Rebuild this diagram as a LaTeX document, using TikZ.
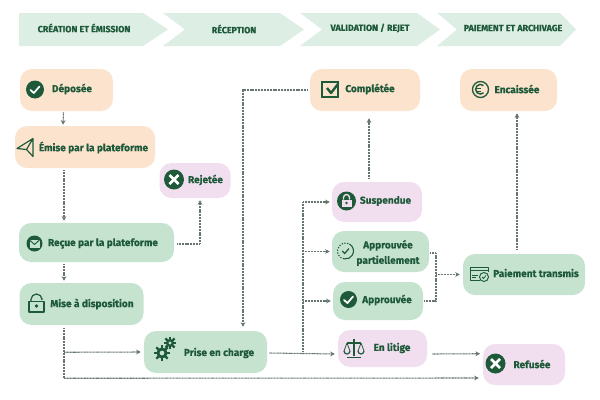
\documentclass[tikz,border=0pt]{standalone}
\usepackage{fontspec}
\setmainfont{Fira Sans}[BoldFeatures={FakeBold=0.5}]
\usetikzlibrary{arrows.meta,calc,shapes.geometric}
\definecolor{peach}{HTML}{FCE3CD}
\definecolor{mint}{HTML}{C6E3D0}
\definecolor{lilac}{HTML}{F1DFF0}
\definecolor{band}{HTML}{DDEEE5}
\definecolor{ink}{HTML}{1E5A3A}
\definecolor{wire}{HTML}{66756D}
\tikzset{
  x=0.75pt,y=-0.75pt,
  boxnode/.style n args={3}{draw=none,fill=#1,rounded corners=9pt,minimum width=#2*0.75pt,minimum height=#3*0.75pt,inner sep=0pt},
  lbl/.style={text=ink,font=\bfseries\fontsize{7.55pt}{11.5pt}\selectfont,inner sep=0pt,align=center},
  hdr/.style={text=ink,font=\bfseries\fontsize{6.7pt}{8pt}\selectfont,inner sep=0pt},
  conn/.style={draw=wire,line width=0.8pt,dash pattern=on 0.8pt off 0.35pt,-{Stealth[length=3.4pt,width=3.6pt]}},
  wireline/.style={draw=wire,line width=0.8pt,dash pattern=on 0.8pt off 0.35pt},
  icl/.style={draw=ink,line width=0.9pt,fill=none,line join=round},
  tick/.style={draw=white,line width=1.3pt,line cap=round,line join=round},
}
\begin{document}
\begin{tikzpicture}
\useasboundingbox (0,0) rectangle (600,400);
\fill[white] (0,0) rectangle (600,400);
% bands
\fill[band] (19,13)--(143,13)--(168,29.5)--(143,46)--(19,46)--cycle;
\fill[band] (163,13)--(280,13)--(304,29.5)--(280,46)--(163,46)--(185,29.5)--cycle;
\fill[band] (300,13)--(417,13)--(440,29.5)--(417,46)--(300,46)--(322,29.5)--cycle;
\fill[band] (437,13)--(560,13)--(576,29.5)--(560,46)--(437,46)--(457,29.5)--cycle;
\node[hdr] (h1) at (84,28) {CRÉATION ET ÉMISSION};
\node[hdr] (h2) at (234,29) {RÉCEPTION};
\node[hdr] (h3) at (370,28) {VALIDATION / REJET};
\node[hdr] (h4) at (513,28) {PAIEMENT ET ARCHIVAGE};
% boxes
\node[boxnode={peach}{93}{42}] (dep) at (66.5,90) {};
\node[boxnode={peach}{140}{42}] (emi) at (85,147) {};
\node[boxnode={lilac}{71}{35}] (rej) at (195,180.5) {};
\node[boxnode={mint}{155}{39}] (rec) at (96.5,242.5) {};
\node[boxnode={mint}{124}{42}] (mis) at (81.5,304) {};
\node[boxnode={mint}{123}{42}] (pri) at (205.5,352) {};
\node[boxnode={peach}{110}{42}] (com) at (365,90) {};
\node[boxnode={peach}{97}{42}] (enc) at (508.5,90) {};
\node[boxnode={lilac}{90}{40}] (sus) at (377,202) {};
\node[boxnode={mint}{97}{41}] (app) at (380.5,251.5) {};
\node[boxnode={mint}{90}{38}] (apr) at (378,301) {};
\node[boxnode={lilac}{89}{37}] (lit) at (382.5,348.5) {};
\node[boxnode={lilac}{82}{41}] (ref) at (524,364.5) {};
\node[boxnode={mint}{122}{41}] (pai) at (524,274.5) {};
% labels
\node[lbl] (t1) at (72,89) {Déposée};
\node[lbl] (t2) at (93.5,147.5) {Émise par la plateforme};
\node[lbl] (t3) at (205.5,180) {Rejetée};
\node[lbl] (t4) at (103,243.5) {Reçue par la plateforme};
\node[lbl] (t5) at (92,304) {Mise à disposition};
\node[lbl] (t6) at (219,353) {Prise en charge};
\node[lbl] (t7) at (370,89) {Complétée};
\node[lbl] (t8) at (517,89) {Encaissée};
\node[lbl] (t9) at (385.5,201) {Suspendue};
\node[lbl] (t10) at (388,253) {Approuvée\\partiellement};
\node[lbl] (t11) at (387,300) {Approuvée};
\node[lbl] (t12) at (392,348) {En litige};
\node[lbl] (t13) at (532,364) {Refusée};
\node[lbl] (t14) at (536,273) {Paiement transmis};
% connectors
\coordinate (tx) at (303,300);
\coordinate (jx) at (436,300);
\coordinate (cx) at (243,90);
\draw[conn] ($(dep.south)+(-3,1)$) -- ($(emi.north)+(-22,-1)$);
\draw[conn] ($(emi.south)+(-21,2)$) -- ($(rec.north)+(-32.5,-2)$);
\draw[conn] ($(rec.east)+(3,1.5)$) -| ($(rej.south)+(5,2)$);
\draw[conn] ($(rec.south)+(-32.5,2)$) -- ($(mis.north)+(-17.5,-2)$);
\draw[wireline] ($(mis.south)+(-17.5,3)$) -- ($(mis.south)+(-17.5,53)$) coordinate (mbot);
\draw[conn] ($(mis.south)+(-17.5,27)$) -- ($(pri.west)+(-3,0)$);
\draw[conn] (mbot) -- ($(ref.west)+(-4,13.5)$);
\draw[conn] ($(pri.east)+(2,1)$) -- ($(lit.west)+(-3,5.5)$);
\draw[wireline] (tx |- pri.east) -- (tx |- sus.west);
\draw[conn] (tx |- sus.west) -- ($(sus.west)+(-2,0)$);
\draw[conn] (tx |- app.west) -- ($(app.west)+(-2,0)$);
\draw[conn] (tx |- apr.west) -- ($(apr.west)+(-2,0)$);
\draw[conn] ($(com.west)+(-2,0)$) -- (cx) -- ($(cx |- pri.north)+(0,-4)$);
\draw[conn] ($(sus.north)+(-8,-3)$) -- ($(com.south)+(4,7)$);
\draw[wireline] ($(app.east)+(1,1.5)$) -- (jx |- 0,253) -- (jx |- apr.east) -- ($(apr.east)+(1,0)$);
\draw[conn] (jx |- pai.west) -- ($(pai.west)+(-3,0)$);
\draw[conn] ($(pai.north)+(-7,-4)$) -- ($(enc.south)+(8.5,2)$);
\draw[conn] ($(lit.east)+(5,5.5)$) -- ($(ref.north)+(-44,10)$);
% icons
% check circles
\fill[ink] (35,89.5) circle (9);
\draw[tick] (30.5,90) -- (33.8,93) -- (39.5,86.5);
\fill[ink] (348.5,299.5) circle (8.5);
\draw[tick] (344,300) -- (347.5,303) -- (353,296.5);
% plane
\draw[icl] (17,148.5) -- (33,138.5) -- (33,156.5) -- (26.5,149.5) -- cycle (26.5,149.5) -- (33,138.5);
% x circles
\fill[ink] (174,179.5) circle (10);
\draw[draw=white,line width=2pt] (169.5,175) -- (178.5,184) (178.5,175) -- (169.5,184);
\fill[ink] (495.5,363.5) circle (10);
\draw[draw=white,line width=2pt] (491,359) -- (500,368) (500,359) -- (491,368);
% envelope
\fill[ink] (34.5,243.5) circle (8);
\fill[mint] (29.5,240) rectangle (39.5,248);
\draw[draw=ink,line width=0.7pt] (29.5,240) -- (34.5,244.5) -- (39.5,240);
% open lock
\draw[icl] (29,301.5) rectangle (44,312);
\draw[icl] (31,301.5) -- (31,299.5) arc[start angle=180,end angle=360,radius=5.5] -- (42,298);
\fill[ink] (36.5,306) circle (1.8);
% gears
\foreach \cx/\cy/\r in {162/353/5.6,170/343/4}{
  \foreach \a in {0,45,...,315}{\draw[draw=ink,line width=1.6pt] (\cx,\cy) -- ++({\a}:{\r+2.4});}
  \fill[ink] (\cx,\cy) circle (\r);
  \fill[mint] (\cx,\cy) circle ({\r*0.42});
}
% checkbox
\draw[draw=ink,line width=1.1pt] (338,97) rectangle (322,82);
\draw[draw=ink,line width=1.8pt,line join=round] (327,88) -- (331,93) -- (338,84);
% euro
\draw[draw=ink,line width=1pt] (480.5,89.5) circle (8);
\draw[draw=ink,line width=1.1pt] (483.5,85.5) arc[start angle=310,end angle=50,radius=4.8];
\draw[draw=ink,line width=0.7pt] (475.5,88.5) -- (481,88.5) (475.5,91) -- (481,91);
% closed lock circle
\fill[ink] (346.5,201) circle (9.5);
\fill[lilac] (341.5,199.5) rectangle (351.5,207);
\draw[draw=lilac,line width=1pt] (343.5,199.5) -- (343.5,197.5) arc[start angle=180,end angle=360,radius=3] -- (349.5,199.5);
\fill[ink] (346.5,203) circle (1.3);
% dashed circle check
\draw[draw=ink,line width=0.8pt] (345.5,251) ++(-60:8) arc[start angle=-60,end angle=100,radius=8];
\draw[draw=ink,line width=0.8pt,dash pattern=on 1pt off 1.1pt] (345.5,251) ++(100:8) arc[start angle=100,end angle=300,radius=8];
\draw[draw=ink,line width=0.9pt] (342.2,251) -- (344.7,253.5) -- (349,248.5);
% balance
\draw[draw=ink,line width=0.9pt] (354,339) -- (354,356) (347,357.5) -- (361,357.5) (347,343) -- (361,343);
\draw[draw=ink,line width=0.6pt] (347,343) -- (350,351) (347,343) -- (344,351) (361,343) -- (364,351) (361,343) -- (358,351);
\draw[draw=ink,line width=0.9pt] (344,351) arc[start angle=180,end angle=0,radius=3] (358,351) arc[start angle=180,end angle=0,radius=3];
% card
\draw[icl,line width=0.7pt] (480,280) -- (470,280) -- (470,267) -- (488,267) -- (488,272);
\draw[draw=ink,line width=0.7pt] (470,270) -- (488,270) (472,275) -- (478,275) (472,277.5) -- (476,277.5);
\draw[draw=ink,line width=0.7pt] (484,277) circle (4.5);
\draw[draw=ink,line width=0.6pt] (482,277) -- (483.5,278.5) -- (486,275.5);
\end{tikzpicture}
\end{document}
